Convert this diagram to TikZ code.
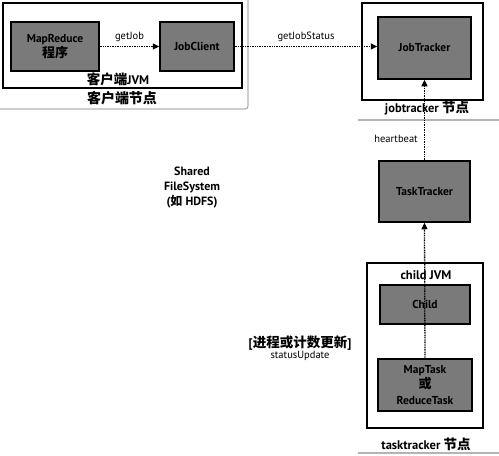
\documentclass[tikz,border=0pt]{standalone}
\usepackage{fontspec}
\setmainfont{PT Sans}
\newfontfamily\cjk{Noto Sans CJK SC}
\newcommand\zh[2][13.5]{{\cjk\fontsize{#1}{#1}\selectfont #2}}
\usetikzlibrary{arrows.meta}
\definecolor{boxgray}{HTML}{7A7A7A}
\definecolor{framegray}{HTML}{B4B4B4}
\begin{document}
\begin{tikzpicture}[x=1pt,y=-1pt,
  box/.style={draw,line width=1.5pt,fill=boxgray,align=center,inner sep=0pt,
    font=\bfseries\fontsize{11.5}{15.5}\selectfont},
  jvm/.style={draw,line width=1.4pt,fill=white,inner sep=0pt},
  lbl/.style={font=\bfseries\fontsize{12.5}{13}\selectfont,inner sep=0pt},
  small/.style={font=\fontsize{10.5}{11}\selectfont,inner sep=0pt,align=center},
  dotarrow/.style={line width=1.3pt,dash pattern=on 1pt off 0.7pt,
    -{Triangle[length=6.5pt,width=6pt]}},
  outer/.style={draw=framegray,line width=1.3pt}]
\useasboundingbox (0,0) rectangle (499,456);
\fill[white] (0,0) rectangle (499,456);

% client node outer frame
\draw[outer,rounded corners=3pt] (0,109) -- (248,109) -- (248,0);
\draw[outer] (358,120) -- (499,120);
\draw[outer] (358,453) -- (499,453);

% client JVM
\node[jvm,minimum width=239pt,minimum height=85pt] (cjvm) at (122.5,45.5) {};
\node[box,minimum width=88pt,minimum height=49pt] (mr) at (55,46.5) {MapReduce\\\zh[13]{程序}};
\node[box,minimum width=74pt,minimum height=49pt] (jc) at (197,46.5) {JobClient};
\node[lbl] (cjvml) at (118,79) {\zh{客户端}JVM};
\node[lbl] (cnode) at (122,98) {\zh[14]{客户端节点}};

% jobtracker node
\node[jvm,minimum width=121pt,minimum height=97pt] (jtn) at (422.5,51.5) {};
\node[box,minimum width=93pt,minimum height=62pt] (jt) at (424.5,48) {JobTracker};
\node[lbl] (jtl) at (427,108) {jobtracker \zh{节点}};

% tasktracker
\node[box,minimum width=91pt,minimum height=61pt] (tt) at (424.5,191.5) {TaskTracker};

% child JVM
\node[jvm,minimum width=116pt,minimum height=165pt] (chjvm) at (425,345.5) {};
\node[lbl] (chjvml) at (426,275) {child JVM};
\node[box,minimum width=90pt,minimum height=39pt] (child) at (425,304.5) {Child};
\node[box,minimum width=94pt,minimum height=52pt] (task) at (425,385) {MapTask\\\zh[13]{或}\\ReduceTask};
\node[lbl] (ttl) at (426,444) {tasktracker \zh{节点}};

% shared FS
\node[font=\bfseries\fontsize{12}{15}\selectfont,align=center,inner sep=0pt] (fs) at (192,188)
  {Shared\\FileSystem\\(\zh[12]{如} HDFS)};

% arrows
\draw[dotarrow] (mr.east) -- node[small,above=4pt] (gj) {getJob} (jc.west);
\draw[dotarrow] (jc.east) -- node[small,above=4pt] (gjs) {getJobStatus} (jc.east -| jt.west);
\draw[dotarrow] (tt.north) -- (jt.south);
\node[small,anchor=east] (hb) at (418,139) {heartbeat};
\draw[dotarrow] (task.north) -- (tt.south);
\node[lbl] (su1) at (300,343) {[\zh{进程或计数更新}]};
\node[small] (su2) at (300,356) {statusUpdate};
\end{tikzpicture}
\end{document}
